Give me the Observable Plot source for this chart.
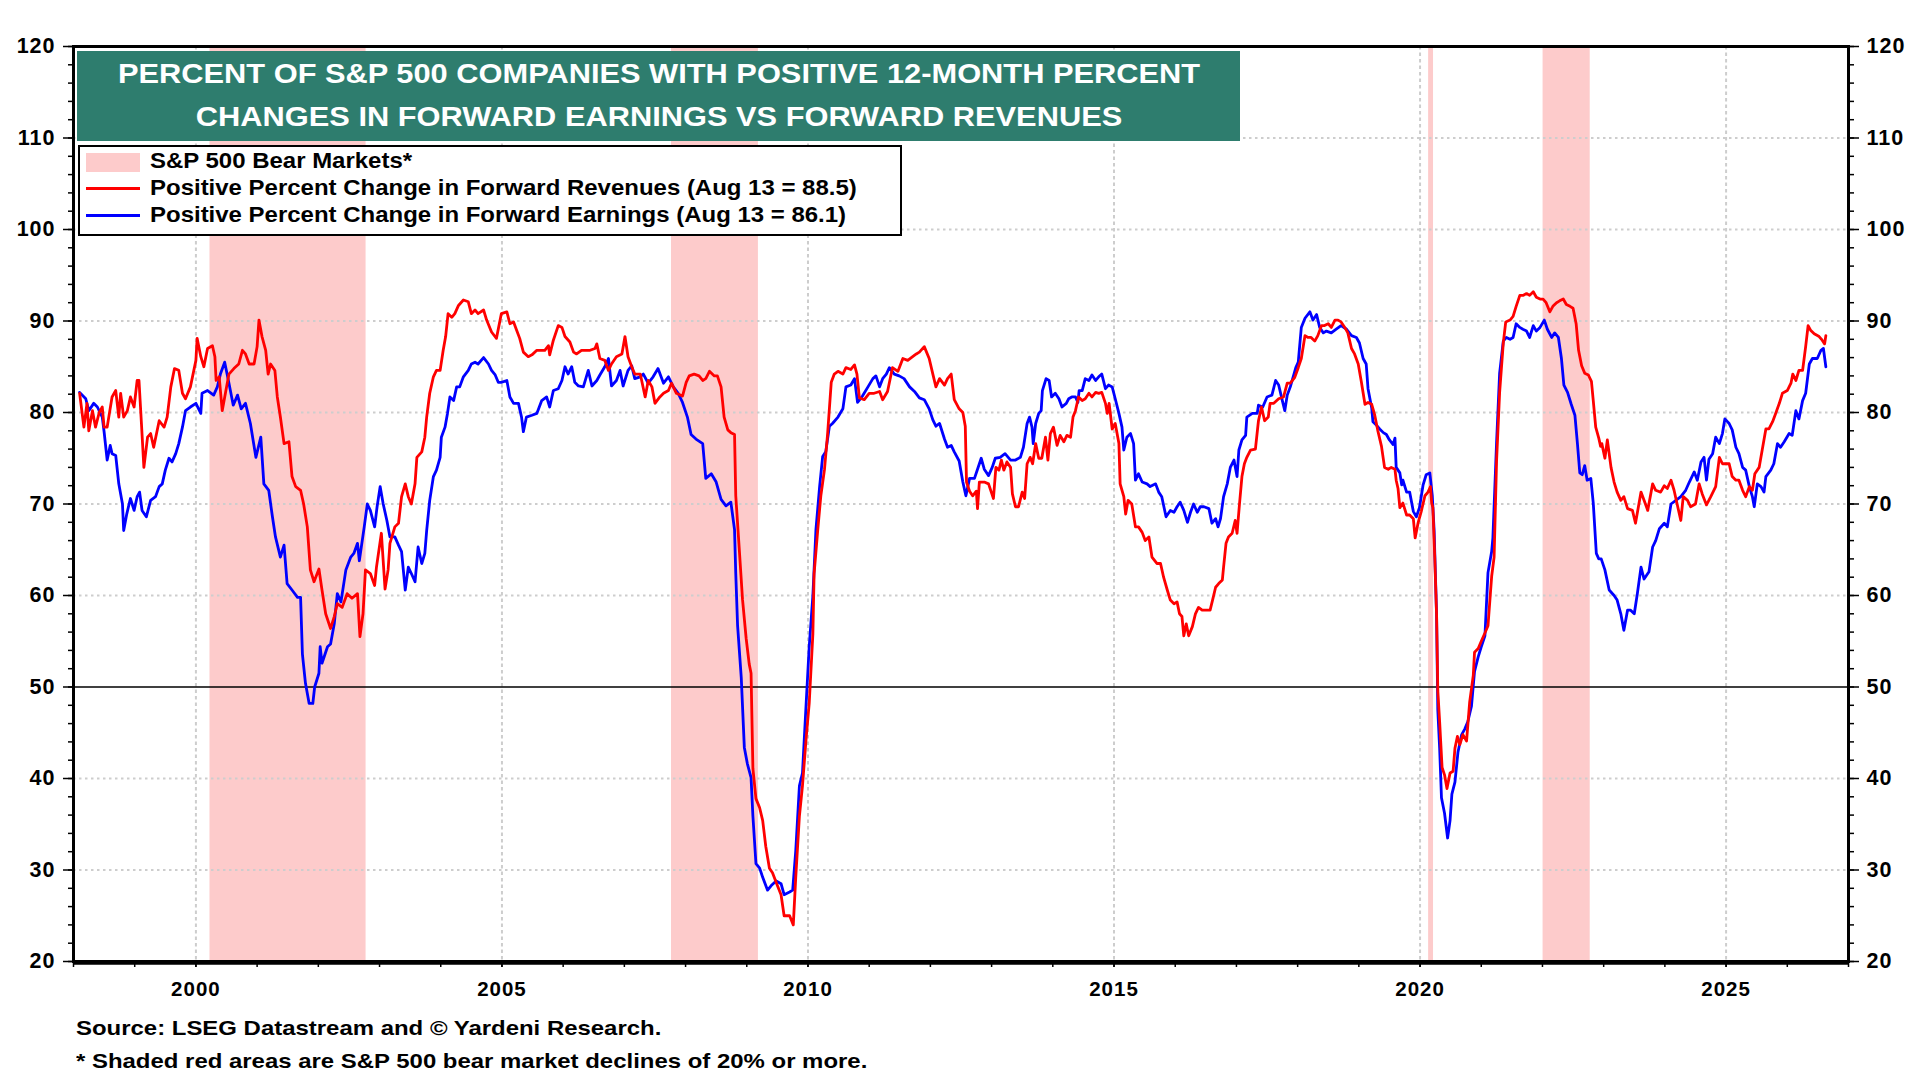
<!DOCTYPE html>
<html>
<head>
<meta charset="utf-8">
<script src="https://cdn.jsdelivr.net/npm/d3@7"></script>
<script src="https://cdn.jsdelivr.net/npm/@observablehq/plot@0.6"></script>
<style>
  html, body { margin: 0; padding: 0; background: #fff; }
  body { font-family: "Liberation Sans", Arial, Helvetica, sans-serif; font-weight: bold; color: #000; }
  #wrap { position: relative; width: 1920px; height: 1080px; overflow: hidden; background: #fff; }
  #chart { position: absolute; left: 0; top: 0; }
  #title { position: absolute; left: 77px; top: 51px; width: 1163px; height: 90px; background: #2E7D6E;
           color: #fff; font-size: 28px; line-height: 43px; text-align: center; box-sizing: border-box; padding-top: 1px; }
  #title div { transform: scaleX(1.1); transform-origin: 576px 50%; white-space: nowrap; }
  #legend { position: absolute; left: 78px; top: 145px; width: 824px; height: 91px; background: #fff;
            border: 2.5px solid #000; box-sizing: border-box; }
  .row { position: absolute; left: 0; height: 27px; line-height: 27px; font-size: 21.5px; white-space: nowrap; }
  .row .txt { position: absolute; left: 70px; top: 0; transform: scaleX(1.115); transform-origin: 0 50%; }
  .sw { position: absolute; left: 6px; width: 54px; }
  #foot { position: absolute; left: 76px; top: 1011px; font-size: 21px; line-height: 33px; white-space: nowrap; }
  #foot div { transform: scaleX(1.14); transform-origin: 0 50%; }
</style>
</head>
<body>
<div id="wrap">
  <div id="chart"></div>
  <div id="title"></div>
  <div id="legend"></div>
  <div id="foot"></div>
</div>
<script>
// ---------- text ----------
const titleLines = [
  "PERCENT OF S&P 500 COMPANIES WITH POSITIVE 12-MONTH PERCENT",
  "CHANGES IN FORWARD EARNINGS VS FORWARD REVENUES"
];
const legendLabels = [
  "S&P 500 Bear Markets*",
  "Positive Percent Change in Forward Revenues (Aug 13 = 88.5)",
  "Positive Percent Change in Forward Earnings (Aug 13 = 86.1)"
];
const footLines = [
  "Source: LSEG Datastream and \u00A9 Yardeni Research.",
  "* Shaded red areas are S&P 500 bear market declines of 20% or more."
];

// ---------- ticks ----------
const yMajorTicks = [20, 30, 40, 50, 60, 70, 80, 90, 100, 110, 120];
const yMinorTicks = d3.range(20, 121, 2);
const yGridValues = [30, 40, 60, 70, 80, 90, 100, 110];
const yearTicks = d3.range(1998, 2028);
const yearLabels = [2000, 2005, 2010, 2015, 2020, 2025];

// ---------- bear markets (start, end in decimal years) ----------
const bearMarkets = [
  [2000.23, 2002.78],
  [2007.77, 2009.19],
  [2020.14, 2020.22],
  [2022.01, 2022.78]
];

// ---------- Positive Percent Change in Forward Revenues ----------
const revenues = [
[1998.10,82.1],[1998.17,78.4],[1998.22,81.0],[1998.25,78.0],[1998.31,80.2],[1998.36,78.4],[1998.42,80.0],[1998.47,80.6],
[1998.50,78.4],[1998.55,78.4],[1998.63,81.7],[1998.69,82.4],[1998.74,79.5],[1998.77,82.1],[1998.82,79.5],[1998.88,80.2],
[1998.93,81.7],[1998.99,80.6],[1999.04,83.5],[1999.07,83.5],[1999.11,78.8],[1999.15,74.0],[1999.21,77.3],[1999.26,77.7],
[1999.31,76.2],[1999.40,79.1],[1999.48,78.4],[1999.53,79.5],[1999.59,82.8],[1999.65,84.8],[1999.72,84.6],[1999.78,82.1],
[1999.83,81.5],[1999.91,82.8],[2000.00,85.7],[2000.02,88.1],[2000.08,86.1],[2000.13,85.0],[2000.19,87.0],[2000.27,87.3],
[2000.31,86.1],[2000.33,83.5],[2000.38,83.9],[2000.43,80.2],[2000.49,82.4],[2000.54,84.2],[2000.62,84.8],[2000.70,85.3],
[2000.76,86.8],[2000.81,86.4],[2000.87,85.3],[2000.95,85.3],[2001.00,87.2],[2001.03,90.1],[2001.08,88.3],[2001.14,86.8],
[2001.18,84.2],[2001.22,85.3],[2001.29,84.6],[2001.33,81.7],[2001.38,79.5],[2001.44,76.6],[2001.52,76.8],[2001.57,73.0],
[2001.63,71.9],[2001.71,71.5],[2001.76,70.0],[2001.82,67.5],[2001.87,62.8],[2001.93,61.5],[2002.01,62.9],[2002.06,60.6],
[2002.12,58.0],[2002.20,56.4],[2002.26,57.7],[2002.31,59.1],[2002.39,58.7],[2002.47,60.2],[2002.55,59.7],[2002.64,60.2],
[2002.68,55.5],[2002.73,58.0],[2002.77,62.8],[2002.85,62.4],[2002.92,61.1],[2002.95,63.1],[2003.03,66.8],[2003.09,60.7],
[2003.14,62.8],[2003.17,65.7],[2003.25,67.5],[2003.31,67.9],[2003.36,70.8],[2003.42,72.2],[2003.47,70.8],[2003.52,70.0],
[2003.58,72.2],[2003.61,75.1],[2003.69,75.7],[2003.74,77.3],[2003.77,79.5],[2003.82,82.1],[2003.88,83.9],[2003.93,84.6],
[2003.99,84.6],[2004.04,86.8],[2004.08,88.3],[2004.12,90.8],[2004.18,90.4],[2004.23,90.8],[2004.29,91.7],[2004.37,92.3],
[2004.45,92.1],[2004.50,90.8],[2004.56,91.2],[2004.61,90.8],[2004.70,91.2],[2004.75,90.1],[2004.83,88.8],[2004.91,88.1],
[2004.99,90.8],[2005.08,91.0],[2005.13,89.7],[2005.19,89.9],[2005.24,89.0],[2005.29,88.1],[2005.35,86.6],[2005.43,86.1],
[2005.49,86.3],[2005.57,86.8],[2005.65,86.8],[2005.70,86.8],[2005.76,87.3],[2005.78,86.3],[2005.84,87.9],[2005.92,89.5],
[2005.98,89.3],[2006.03,88.3],[2006.11,87.7],[2006.17,86.6],[2006.22,86.4],[2006.30,86.8],[2006.36,86.8],[2006.44,86.8],
[2006.52,87.0],[2006.55,87.5],[2006.60,85.9],[2006.68,85.7],[2006.74,84.6],[2006.79,85.3],[2006.87,86.1],[2006.96,86.4],
[2007.01,88.3],[2007.06,86.1],[2007.12,85.0],[2007.17,84.2],[2007.26,84.2],[2007.34,81.7],[2007.39,83.5],[2007.45,82.8],
[2007.50,81.0],[2007.58,81.7],[2007.64,82.1],[2007.72,82.4],[2007.77,83.2],[2007.85,82.1],[2007.95,81.8],[2008.01,83.3],
[2008.06,84.0],[2008.14,84.2],[2008.22,84.0],[2008.28,83.5],[2008.33,83.7],[2008.39,84.5],[2008.47,84.0],[2008.52,84.0],
[2008.58,82.8],[2008.63,79.5],[2008.69,78.1],[2008.74,77.8],[2008.80,77.6],[2008.82,70.9],[2008.88,64.8],[2008.93,59.6],
[2008.99,55.3],[2009.04,52.5],[2009.07,51.5],[2009.10,41.1],[2009.15,37.8],[2009.21,36.8],[2009.26,35.4],[2009.31,32.6],
[2009.37,30.2],[2009.42,29.7],[2009.50,28.3],[2009.56,27.3],[2009.61,25.0],[2009.70,25.0],[2009.76,24.0],[2009.80,29.2],
[2009.86,35.9],[2009.91,39.2],[2009.97,44.4],[2010.02,48.2],[2010.08,55.8],[2010.10,62.4],[2010.16,67.2],[2010.21,70.9],
[2010.27,73.8],[2010.32,77.6],[2010.38,83.3],[2010.43,84.2],[2010.49,84.5],[2010.57,84.2],[2010.62,84.9],[2010.70,84.7],
[2010.76,85.2],[2010.80,84.2],[2010.84,81.6],[2010.92,81.4],[2011.00,82.1],[2011.08,82.1],[2011.17,82.3],[2011.22,81.4],
[2011.30,82.3],[2011.38,84.9],[2011.47,84.5],[2011.55,85.9],[2011.63,85.7],[2011.71,86.1],[2011.77,86.4],[2011.82,86.6],
[2011.90,87.2],[2011.98,85.9],[2012.04,84.2],[2012.09,82.8],[2012.15,83.7],[2012.23,83.0],[2012.28,83.7],[2012.34,84.2],
[2012.39,81.4],[2012.47,80.4],[2012.53,80.0],[2012.57,78.5],[2012.59,72.4],[2012.64,71.4],[2012.69,70.9],[2012.75,71.4],
[2012.77,69.5],[2012.80,72.4],[2012.88,72.4],[2012.95,72.2],[2013.03,70.6],[2013.07,74.0],[2013.12,73.7],[2013.16,74.8],
[2013.20,73.7],[2013.25,74.6],[2013.31,74.0],[2013.34,71.1],[2013.39,69.7],[2013.44,69.7],[2013.50,71.3],[2013.54,70.6],
[2013.58,74.4],[2013.63,75.1],[2013.67,74.4],[2013.72,76.6],[2013.77,75.0],[2013.82,75.0],[2013.88,77.3],[2013.92,74.8],
[2013.96,77.7],[2014.01,78.4],[2014.07,76.4],[2014.12,77.5],[2014.18,76.8],[2014.23,77.5],[2014.29,77.3],[2014.33,79.5],
[2014.37,80.2],[2014.42,81.7],[2014.48,81.3],[2014.53,81.5],[2014.59,82.1],[2014.64,81.7],[2014.70,82.2],[2014.75,82.1],
[2014.80,82.2],[2014.86,81.0],[2014.89,79.9],[2014.92,81.0],[2014.97,78.2],[2015.02,78.8],[2015.08,76.6],[2015.10,72.2],
[2015.16,70.8],[2015.19,68.9],[2015.23,70.4],[2015.29,70.0],[2015.35,67.5],[2015.40,67.5],[2015.46,66.9],[2015.51,66.0],
[2015.57,66.4],[2015.62,64.2],[2015.70,63.5],[2015.76,63.5],[2015.81,62.0],[2015.87,60.6],[2015.92,59.5],[2015.98,59.1],
[2016.03,59.3],[2016.07,58.0],[2016.11,57.7],[2016.14,55.6],[2016.18,56.9],[2016.22,55.6],[2016.28,56.6],[2016.33,58.0],
[2016.38,58.7],[2016.44,58.4],[2016.52,58.4],[2016.57,58.4],[2016.61,59.5],[2016.66,60.9],[2016.71,61.3],[2016.77,61.7],
[2016.79,63.1],[2016.83,65.7],[2016.87,66.4],[2016.93,66.8],[2016.98,68.2],[2017.01,66.8],[2017.05,70.0],[2017.09,73.0],
[2017.13,74.4],[2017.17,75.1],[2017.23,75.9],[2017.31,76.0],[2017.36,79.1],[2017.41,80.6],[2017.46,79.1],[2017.52,79.5],
[2017.55,81.0],[2017.61,81.0],[2017.69,81.5],[2017.77,81.7],[2017.83,83.2],[2017.88,83.2],[2017.95,83.8],[2018.01,84.9],
[2018.06,85.9],[2018.12,88.4],[2018.17,88.2],[2018.22,88.2],[2018.28,87.8],[2018.33,88.4],[2018.39,89.5],[2018.44,89.5],
[2018.50,89.7],[2018.55,89.3],[2018.61,90.1],[2018.66,90.1],[2018.71,89.9],[2018.77,89.3],[2018.82,88.7],[2018.88,87.0],
[2018.93,86.4],[2018.99,85.3],[2019.04,83.4],[2019.10,80.9],[2019.15,81.1],[2019.21,80.9],[2019.26,79.7],[2019.31,78.0],
[2019.37,76.3],[2019.42,74.0],[2019.48,73.8],[2019.53,74.0],[2019.59,73.8],[2019.61,72.6],[2019.64,71.7],[2019.67,69.6],
[2019.72,70.1],[2019.78,68.8],[2019.83,68.8],[2019.89,68.4],[2019.92,66.3],[2019.97,68.0],[2020.02,69.2],[2020.08,70.9],
[2020.13,71.3],[2020.17,71.9],[2020.19,70.1],[2020.21,69.6],[2020.24,64.2],[2020.27,57.9],[2020.29,49.6],[2020.32,46.2],
[2020.36,41.2],[2020.40,40.4],[2020.44,38.9],[2020.49,40.6],[2020.54,40.8],[2020.57,43.3],[2020.61,44.6],[2020.65,43.7],
[2020.70,44.8],[2020.76,44.1],[2020.81,48.3],[2020.87,51.3],[2020.89,53.8],[2020.95,54.2],[2021.00,55.0],[2021.06,55.9],
[2021.11,56.7],[2021.17,62.1],[2021.21,64.2],[2021.25,74.7],[2021.30,82.2],[2021.36,87.6],[2021.40,89.9],[2021.47,90.1],
[2021.52,90.5],[2021.57,91.6],[2021.63,92.8],[2021.68,92.8],[2021.74,93.0],[2021.79,92.8],[2021.85,93.2],[2021.90,92.6],
[2021.96,92.4],[2022.01,92.4],[2022.06,92.0],[2022.12,91.0],[2022.17,91.6],[2022.23,92.0],[2022.28,92.2],[2022.34,92.4],
[2022.39,91.8],[2022.45,91.6],[2022.50,91.4],[2022.55,89.7],[2022.59,86.8],[2022.64,85.1],[2022.69,84.3],[2022.75,84.1],
[2022.80,83.4],[2022.83,81.3],[2022.87,78.4],[2022.92,77.2],[2022.95,76.3],[2022.97,76.6],[2023.02,75.0],[2023.06,77.0],
[2023.12,74.0],[2023.17,72.4],[2023.22,71.3],[2023.28,70.4],[2023.33,70.8],[2023.39,69.5],[2023.47,69.3],[2023.52,67.9],
[2023.61,71.3],[2023.66,70.4],[2023.72,69.3],[2023.80,72.2],[2023.85,71.5],[2023.93,71.3],[2023.99,72.0],[2024.04,71.7],
[2024.10,72.6],[2024.15,71.5],[2024.21,69.7],[2024.26,68.2],[2024.30,70.8],[2024.37,70.4],[2024.42,69.7],[2024.50,70.0],
[2024.56,72.2],[2024.61,71.1],[2024.68,69.9],[2024.75,70.8],[2024.83,71.9],[2024.89,75.1],[2024.94,74.4],[2025.00,74.4],
[2025.05,74.4],[2025.10,73.0],[2025.16,72.6],[2025.21,72.6],[2025.27,71.5],[2025.32,70.8],[2025.38,71.9],[2025.43,71.5],
[2025.47,73.3],[2025.54,74.0],[2025.59,75.9],[2025.65,78.2],[2025.70,78.2],[2025.76,79.0],[2025.81,79.9],[2025.87,81.0],
[2025.92,82.1],[2026.00,82.4],[2026.06,83.2],[2026.09,84.2],[2026.14,83.5],[2026.19,84.6],[2026.25,84.6],[2026.30,87.2],
[2026.34,89.5],[2026.38,89.0],[2026.44,88.6],[2026.52,88.3],[2026.57,87.9],[2026.61,87.5],[2026.63,88.4]
];

// ---------- Positive Percent Change in Forward Earnings ----------
const earnings = [
[1998.10,82.2],[1998.20,81.5],[1998.25,80.2],[1998.33,81.0],[1998.39,80.6],[1998.47,79.5],[1998.50,77.9],[1998.55,74.8],
[1998.60,76.4],[1998.63,75.5],[1998.69,75.3],[1998.74,72.2],[1998.80,70.0],[1998.82,67.1],[1998.87,68.9],[1998.93,70.6],
[1998.99,69.3],[1999.04,70.8],[1999.08,71.3],[1999.12,69.3],[1999.19,68.6],[1999.26,70.4],[1999.34,70.8],[1999.40,71.9],
[1999.45,72.2],[1999.50,73.7],[1999.56,75.0],[1999.61,74.6],[1999.67,75.5],[1999.72,76.6],[1999.78,78.4],[1999.83,80.2],
[1999.91,80.6],[2000.00,81.0],[2000.08,79.9],[2000.10,82.1],[2000.19,82.4],[2000.29,81.9],[2000.35,82.8],[2000.40,84.2],
[2000.47,85.5],[2000.54,83.2],[2000.61,80.8],[2000.68,81.9],[2000.74,80.4],[2000.81,81.0],[2000.89,78.8],[2000.98,75.1],
[2001.06,77.3],[2001.11,72.2],[2001.19,71.5],[2001.25,68.6],[2001.30,66.4],[2001.38,64.2],[2001.44,65.5],[2001.49,61.3],
[2001.57,60.6],[2001.66,59.8],[2001.71,59.8],[2001.74,53.6],[2001.79,50.4],[2001.85,48.2],[2001.91,48.2],[2001.94,50.0],
[2002.01,51.5],[2002.03,54.4],[2002.06,52.6],[2002.15,54.4],[2002.20,54.7],[2002.26,56.9],[2002.31,60.2],[2002.37,59.3],
[2002.45,62.8],[2002.53,64.2],[2002.58,64.6],[2002.64,65.7],[2002.67,63.8],[2002.75,67.5],[2002.80,70.0],[2002.85,69.3],
[2002.92,67.5],[2002.96,69.7],[2003.01,71.9],[2003.06,70.0],[2003.12,68.2],[2003.17,66.4],[2003.25,66.4],[2003.31,65.5],
[2003.36,64.8],[2003.42,60.6],[2003.47,63.1],[2003.52,62.4],[2003.58,61.5],[2003.63,65.3],[2003.69,63.5],[2003.74,64.6],
[2003.77,67.1],[2003.82,70.4],[2003.88,73.0],[2003.93,73.7],[2003.99,75.1],[2004.01,77.3],[2004.07,78.4],[2004.11,79.9],
[2004.15,81.7],[2004.21,81.3],[2004.26,82.8],[2004.31,82.8],[2004.37,83.9],[2004.45,84.6],[2004.50,85.3],[2004.56,85.5],
[2004.61,85.3],[2004.70,86.0],[2004.78,85.3],[2004.83,84.6],[2004.89,84.1],[2004.94,83.3],[2004.99,83.3],[2005.08,83.5],
[2005.13,81.7],[2005.19,81.0],[2005.27,81.0],[2005.32,79.5],[2005.35,77.9],[2005.40,79.5],[2005.49,79.7],[2005.57,79.9],
[2005.65,81.3],[2005.73,81.7],[2005.78,80.6],[2005.84,82.4],[2005.92,82.6],[2005.98,83.5],[2006.03,85.0],[2006.08,84.2],
[2006.14,85.0],[2006.19,83.3],[2006.25,82.9],[2006.33,82.8],[2006.41,84.6],[2006.47,82.9],[2006.55,83.5],[2006.60,84.1],
[2006.68,85.0],[2006.74,85.9],[2006.79,82.9],[2006.87,83.5],[2006.93,84.6],[2006.98,82.9],[2007.06,84.6],[2007.12,85.1],
[2007.17,83.7],[2007.26,83.9],[2007.31,84.2],[2007.39,83.2],[2007.47,83.9],[2007.55,84.8],[2007.64,83.2],[2007.72,83.9],
[2007.80,82.8],[2007.88,82.1],[2007.95,81.1],[2008.03,79.5],[2008.09,77.6],[2008.17,77.1],[2008.28,76.6],[2008.33,72.8],
[2008.42,73.3],[2008.50,72.4],[2008.58,70.5],[2008.66,69.8],[2008.74,70.2],[2008.80,67.2],[2008.82,62.4],[2008.85,56.7],
[2008.91,51.0],[2008.96,43.4],[2009.01,41.6],[2009.07,40.1],[2009.10,35.9],[2009.15,30.7],[2009.21,30.2],[2009.26,29.2],
[2009.34,27.8],[2009.40,28.3],[2009.48,28.8],[2009.56,28.5],[2009.61,27.3],[2009.70,27.6],[2009.75,27.8],[2009.80,32.1],
[2009.86,39.2],[2009.91,40.6],[2009.97,48.2],[2010.02,54.4],[2010.08,60.0],[2010.13,67.2],[2010.19,71.9],[2010.24,75.2],
[2010.29,75.7],[2010.35,78.5],[2010.40,78.8],[2010.49,79.5],[2010.57,80.4],[2010.62,82.8],[2010.70,83.0],[2010.76,83.7],
[2010.81,81.1],[2010.89,81.8],[2010.98,82.8],[2011.06,83.7],[2011.11,84.0],[2011.17,82.8],[2011.22,83.7],[2011.28,84.2],
[2011.33,84.9],[2011.41,84.2],[2011.49,84.0],[2011.57,83.7],[2011.66,82.8],[2011.74,82.3],[2011.82,81.6],[2011.90,81.4],
[2011.98,80.4],[2012.04,79.2],[2012.09,78.5],[2012.15,78.8],[2012.23,77.1],[2012.28,76.2],[2012.34,76.4],[2012.39,75.7],
[2012.47,74.7],[2012.53,72.4],[2012.58,70.9],[2012.64,72.8],[2012.72,72.8],[2012.77,73.8],[2012.83,75.0],[2012.88,73.8],
[2012.95,73.1],[2013.01,74.0],[2013.06,75.0],[2013.14,75.1],[2013.22,75.5],[2013.31,74.8],[2013.39,74.8],[2013.47,75.1],
[2013.52,76.2],[2013.58,78.8],[2013.62,79.5],[2013.66,78.4],[2013.68,76.6],[2013.72,78.8],[2013.77,79.9],[2013.81,80.2],
[2013.83,82.4],[2013.89,83.7],[2013.94,83.5],[2013.98,81.7],[2014.04,82.1],[2014.10,81.5],[2014.15,80.6],[2014.22,81.0],
[2014.26,81.5],[2014.31,81.7],[2014.37,81.7],[2014.41,81.1],[2014.43,82.4],[2014.48,82.4],[2014.53,83.7],[2014.59,83.5],
[2014.64,84.1],[2014.70,83.5],[2014.75,83.9],[2014.80,84.2],[2014.86,82.6],[2014.91,83.0],[2014.97,82.8],[2015.02,81.5],
[2015.08,79.9],[2015.13,78.4],[2015.16,75.9],[2015.21,77.3],[2015.27,77.7],[2015.32,76.6],[2015.35,72.6],[2015.40,73.3],
[2015.46,72.4],[2015.54,72.2],[2015.59,71.9],[2015.68,72.2],[2015.73,71.3],[2015.78,70.8],[2015.85,68.6],[2015.92,69.3],
[2015.98,69.1],[2016.03,69.7],[2016.08,70.2],[2016.14,69.3],[2016.20,68.0],[2016.25,69.1],[2016.30,70.0],[2016.36,69.1],
[2016.41,69.7],[2016.47,69.7],[2016.55,69.5],[2016.60,67.9],[2016.66,68.4],[2016.70,67.5],[2016.74,68.4],[2016.79,70.8],
[2016.85,72.2],[2016.90,74.0],[2016.96,74.8],[2017.01,73.0],[2017.04,75.9],[2017.09,77.0],[2017.15,77.5],[2017.17,79.5],
[2017.26,79.9],[2017.34,79.9],[2017.36,80.8],[2017.43,80.6],[2017.50,81.7],[2017.58,81.9],[2017.64,83.5],[2017.69,83.0],
[2017.75,81.3],[2017.79,80.2],[2017.83,81.9],[2017.88,82.8],[2017.94,84.2],[2017.97,84.9],[2018.01,85.5],[2018.06,89.3],
[2018.12,90.3],[2018.20,91.0],[2018.25,90.1],[2018.31,90.7],[2018.36,89.3],[2018.42,88.7],[2018.47,88.9],[2018.55,88.7],
[2018.63,89.1],[2018.71,89.5],[2018.80,89.1],[2018.88,88.4],[2018.96,88.2],[2019.01,87.6],[2019.07,85.9],[2019.12,85.3],
[2019.15,82.6],[2019.21,80.5],[2019.23,79.0],[2019.29,78.6],[2019.34,78.2],[2019.40,77.8],[2019.45,77.6],[2019.50,77.0],
[2019.56,76.5],[2019.59,77.2],[2019.61,74.0],[2019.67,73.4],[2019.70,72.1],[2019.72,72.6],[2019.78,71.3],[2019.83,71.3],
[2019.89,69.2],[2019.94,68.6],[2019.99,69.6],[2020.05,72.1],[2020.10,73.2],[2020.16,73.4],[2020.20,70.9],[2020.23,67.1],
[2020.27,57.9],[2020.29,47.5],[2020.32,43.3],[2020.35,37.9],[2020.40,36.2],[2020.45,33.5],[2020.49,35.4],[2020.52,38.3],
[2020.57,39.6],[2020.62,42.9],[2020.68,44.8],[2020.73,45.4],[2020.78,46.2],[2020.84,47.9],[2020.89,51.7],[2020.95,53.3],
[2021.00,54.4],[2021.06,55.6],[2021.11,62.5],[2021.17,64.8],[2021.19,66.3],[2021.25,76.7],[2021.30,84.3],[2021.36,87.8],
[2021.41,88.2],[2021.47,88.0],[2021.52,88.2],[2021.57,89.7],[2021.63,89.3],[2021.68,89.1],[2021.74,88.9],[2021.79,88.2],
[2021.85,89.5],[2021.90,88.9],[2021.96,89.3],[2022.03,90.1],[2022.08,89.1],[2022.15,88.2],[2022.20,88.7],[2022.26,88.2],
[2022.31,85.9],[2022.35,83.0],[2022.41,82.2],[2022.47,80.9],[2022.53,79.7],[2022.57,76.7],[2022.61,73.4],[2022.65,73.2],
[2022.69,74.2],[2022.73,72.6],[2022.79,72.8],[2022.83,70.1],[2022.88,64.6],[2022.92,64.0],[2022.96,64.0],[2023.02,62.8],
[2023.09,60.6],[2023.17,60.0],[2023.22,59.5],[2023.28,58.0],[2023.33,56.2],[2023.39,58.4],[2023.44,58.4],[2023.50,58.0],
[2023.55,60.2],[2023.61,63.1],[2023.66,61.8],[2023.74,62.6],[2023.80,65.3],[2023.85,66.0],[2023.91,67.3],[2023.99,67.9],
[2024.04,67.5],[2024.10,70.0],[2024.18,70.4],[2024.26,70.8],[2024.34,71.5],[2024.40,72.4],[2024.48,73.5],[2024.53,72.6],
[2024.59,74.6],[2024.64,75.1],[2024.68,72.6],[2024.72,74.9],[2024.78,75.5],[2024.83,77.3],[2024.89,76.6],[2024.94,77.7],
[2024.98,79.3],[2025.05,78.8],[2025.10,78.1],[2025.16,76.2],[2025.21,75.5],[2025.27,74.0],[2025.32,73.7],[2025.38,71.9],
[2025.43,70.8],[2025.46,69.7],[2025.51,72.2],[2025.57,71.9],[2025.62,71.3],[2025.65,73.0],[2025.73,73.7],[2025.78,74.4],
[2025.84,76.6],[2025.89,76.2],[2025.95,76.8],[2026.03,77.7],[2026.08,77.5],[2026.14,80.2],[2026.19,79.3],[2026.25,81.3],
[2026.30,82.1],[2026.36,85.3],[2026.41,85.9],[2026.49,85.9],[2026.55,86.8],[2026.59,87.0],[2026.63,85.0]
];

// ---------- colours ----------
const revColor = "#FF0000";
const earnColor = "#0000FF";
const bearColor = "#FDCBCB";
const gridColor = "#cdcdcd";

// ---------- chart ----------
const fontStack = "'Liberation Sans', Arial, Helvetica, sans-serif";
const chart = Plot.plot({
  width: 1920,
  height: 1010,
  marginLeft: 73,
  marginRight: 72,
  marginTop: 46,
  marginBottom: 49,
  x: { domain: [1998, 2027] },
  y: { domain: [20, 120] },
  style: { fontFamily: fontStack, fontWeight: "bold", fontSize: "21px", letterSpacing: "1px", color: "#000", background: "transparent", overflow: "visible" },
  marks: [
    Plot.rect(bearMarkets, { x1: d => d[0], x2: d => d[1], fill: bearColor }),
    Plot.ruleY(yGridValues, { stroke: gridColor, strokeWidth: 2, strokeDasharray: "2.5,3.5" }),
    Plot.ruleX(yearLabels, { stroke: gridColor, strokeWidth: 2, strokeDasharray: "3.5,3" }),
    Plot.ruleY([50], { stroke: "#000", strokeWidth: 1.6 }),
    Plot.line(earnings, { x: d => d[0], y: d => d[1], stroke: earnColor, strokeWidth: 2.8 }),
    Plot.line(revenues, { x: d => d[0], y: d => d[1], stroke: revColor, strokeWidth: 2.8 }),
    Plot.axisY(yMinorTicks, { anchor: "left", tickSize: 5, text: null, label: null, strokeWidth: 1.5 }),
    Plot.axisY(yMajorTicks, { anchor: "left", tickSize: 10, tickPadding: 8, label: null, fontSize: 21.5, fontWeight: "bold", strokeWidth: 1.5 }),
    Plot.axisY(yMinorTicks, { anchor: "right", tickSize: 5, text: null, label: null, strokeWidth: 1.5 }),
    Plot.axisY(yMajorTicks, { anchor: "right", tickSize: 10, tickPadding: 8, label: null, fontSize: 21.5, fontWeight: "bold", strokeWidth: 1.5 }),
    Plot.axisX(yearTicks, { anchor: "bottom", tickSize: 6, text: null, label: null, strokeWidth: 1.5 }),
    Plot.axisX(yearLabels, { anchor: "bottom", tickSize: 6, tickPadding: 14, label: null, tickFormat: d => String(d), fontSize: 20.5, fontWeight: "bold", strokeWidth: 1.5 }),
    Plot.frame({ stroke: "#000", strokeWidth: 3 }),
    Plot.ruleY([20], { stroke: "#000", strokeWidth: 4.5, dy: 1 })
  ]
});
document.getElementById("chart").appendChild(chart);

// ---------- title ----------
const titleEl = document.getElementById("title");
titleLines.forEach(t => { const d = document.createElement("div"); d.textContent = t; titleEl.appendChild(d); });

// ---------- legend ----------
const legendEl = document.getElementById("legend");
const rowTops = [0.5, 27.5, 54.5];
const swatches = [
  { top: 5.8, height: 18.4, color: bearColor },
  { top: 12, height: 3, color: revColor },
  { top: 12, height: 3, color: earnColor }
];
legendLabels.forEach((t, i) => {
  const row = document.createElement("div");
  row.className = "row";
  row.style.top = rowTops[i] + "px";
  const sw = document.createElement("div");
  sw.className = "sw";
  sw.style.top = swatches[i].top + "px";
  sw.style.height = swatches[i].height + "px";
  sw.style.background = swatches[i].color;
  const tx = document.createElement("div");
  tx.className = "txt";
  tx.textContent = t;
  row.appendChild(sw);
  row.appendChild(tx);
  legendEl.appendChild(row);
});

// ---------- footer ----------
const footEl = document.getElementById("foot");
footLines.forEach(t => { const d = document.createElement("div"); d.textContent = t; footEl.appendChild(d); });
</script>
</body>
</html>
